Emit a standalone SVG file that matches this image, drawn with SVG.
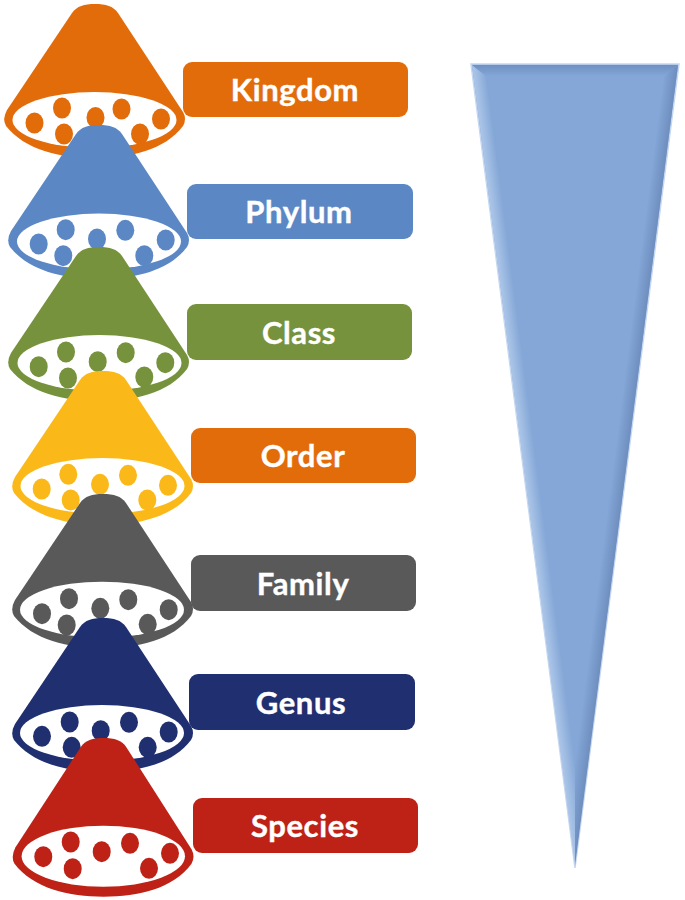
<svg xmlns="http://www.w3.org/2000/svg" width="685" height="900" viewBox="0 0 685 900">
<style>
.label{font-family:Lato,"Open Sans","Liberation Sans",sans-serif;font-weight:700;font-size:31px;letter-spacing:.6px;fill:#fff;stroke:#fff;stroke-width:.4px;text-anchor:middle}
.w{fill:#fff}
.d{rx:9px;ry:10.500px}
</style>
<defs>
<path id="cone" d="M72 13C77 6 84 4 95 4C106 4 113 6 118 13L183 112Q187 119 183 126C165 150 130 158 95 158C60 158 25 150 6 126Q2 119 7 110Z"/>
<linearGradient id="bl" gradientUnits="userSpaceOnUse" x1="471" y1="64" x2="485" y2="62.200"><stop offset="0" stop-color="#AFC8E9"/><stop offset="1" stop-color="#84A7D7"/></linearGradient>
<linearGradient id="br" gradientUnits="userSpaceOnUse" x1="679" y1="64" x2="665" y2="62.200"><stop offset="0" stop-color="#6C8CBC"/><stop offset="1" stop-color="#84A7D7"/></linearGradient>
<linearGradient id="bt" x1="0" y1="0" x2="0" y2="1"><stop offset="0" stop-color="#6F90C2"/><stop offset="1" stop-color="#84A7D7"/></linearGradient>
</defs>
<g id="triangle">
<polygon points="471,64 679,64 575,868" fill="#84A7D7" stroke="#C6D8F0" stroke-width="1.500"/>
<polygon points="472,65 486,76 575,759 575,866" fill="url(#bl)"/>
<polygon points="678,65 664,76 575,759 575,866" fill="url(#br)"/>
<polygon points="472,65 678,65 664,76 486,76" fill="url(#bt)"/>
</g>
<g id="kingdom" fill="#E36C0A"><use href="#cone"/><ellipse class="w" cx="94.500" cy="120" rx="82" ry="28"/>
<ellipse class="d" cx="34.500" cy="123"/><ellipse class="d" cx="62" cy="108"/><ellipse class="d" cx="64" cy="134"/><ellipse class="d" cx="95.500" cy="117.500"/><ellipse class="d" cx="121.500" cy="109"/><ellipse class="d" cx="140" cy="134"/><ellipse class="d" cx="161" cy="119"/>
<rect x="183" y="62" width="225" height="55" rx="9"/><text class="label" x="295" y="101">Kingdom</text></g>
<g id="phylum" fill="#5B88C4"><use href="#cone" x="4" y="121"/><ellipse class="w" cx="99" cy="241.500" rx="82" ry="28"/>
<ellipse class="d" cx="38.700" cy="244"/><ellipse class="d" cx="65.700" cy="229.700"/><ellipse class="d" cx="63.300" cy="255.700"/><ellipse class="d" cx="97" cy="239"/><ellipse class="d" cx="125.300" cy="230.300"/><ellipse class="d" cx="144.300" cy="255.700"/><ellipse class="d" cx="165.700" cy="240"/>
<rect x="187" y="184" width="226" height="55" rx="9"/><text class="label" x="299" y="223">Phylum</text></g>
<g id="class" fill="#76923C"><use href="#cone" x="4" y="243"/><ellipse class="w" cx="99.500" cy="363" rx="82" ry="28"/>
<ellipse class="d" cx="38.700" cy="366.700"/><ellipse class="d" cx="66" cy="352"/><ellipse class="d" cx="68" cy="378"/><ellipse class="d" cx="97.700" cy="361.700"/><ellipse class="d" cx="125.700" cy="352.700"/><ellipse class="d" cx="144.300" cy="377"/><ellipse class="d" cx="165.300" cy="362.700"/>
<rect x="187" y="304" width="225" height="56" rx="9"/><text class="label" x="299" y="344">Class</text></g>
<g id="order" fill="#FAB918"><use href="#cone" x="8" y="367"/><ellipse class="w" cx="102.500" cy="486" rx="82" ry="28"/>
<ellipse class="d" cx="41.700" cy="489"/><ellipse class="d" cx="68.300" cy="474.300"/><ellipse class="d" cx="70.700" cy="500"/><ellipse class="d" cx="100" cy="484.300"/><ellipse class="d" cx="128" cy="475.300"/><ellipse class="d" cx="147.300" cy="500"/><ellipse class="d" cx="168" cy="485.300"/>
<rect x="191" y="428" width="225" height="55" rx="9" fill="#E36C0A"/><text class="label" x="303" y="467">Order</text></g>
<g id="family" fill="#595959"><use href="#cone" x="8" y="490"/><ellipse class="w" cx="102" cy="609.700" rx="82" ry="28"/>
<ellipse class="d" cx="42" cy="613.700"/><ellipse class="d" cx="69" cy="598.700"/><ellipse class="d" cx="66.700" cy="625"/><ellipse class="d" cx="100.300" cy="608.300"/><ellipse class="d" cx="128.300" cy="599.700"/><ellipse class="d" cx="147.700" cy="624.300"/><ellipse class="d" cx="168.700" cy="609.700"/>
<rect x="191" y="555" width="225" height="56" rx="9"/><text class="label" x="303" y="595">Family</text></g>
<g id="genus" fill="#1F2F6F"><use href="#cone" x="8" y="614"/><ellipse class="w" cx="102" cy="733" rx="82" ry="28"/>
<ellipse class="d" cx="42" cy="736.300"/><ellipse class="d" cx="69.700" cy="722"/><ellipse class="d" cx="71.700" cy="747.300"/><ellipse class="d" cx="100.700" cy="730.700"/><ellipse class="d" cx="129" cy="722.300"/><ellipse class="d" cx="147.700" cy="747.300"/><ellipse class="d" cx="168.700" cy="732"/>
<rect x="189" y="674" width="226" height="56" rx="9"/><text class="label" x="301" y="714">Genus</text></g>
<g id="species" fill="#BE2217"><use href="#cone" transform="translate(8.500,734) scale(1,1.030)"/><ellipse class="w" cx="103.300" cy="856.200" rx="81.700" ry="30.500"/>
<ellipse class="d" cx="43.300" cy="856.700"/><ellipse class="d" cx="70.700" cy="842"/><ellipse class="d" cx="72.700" cy="868.700"/><ellipse class="d" cx="101.700" cy="851.700"/><ellipse class="d" cx="130" cy="843.300"/><ellipse class="d" cx="149" cy="868.300"/><ellipse class="d" cx="170" cy="853.300"/>
<rect x="193" y="798" width="225" height="55" rx="9"/><text class="label" x="305" y="837">Species</text></g>
</svg>
